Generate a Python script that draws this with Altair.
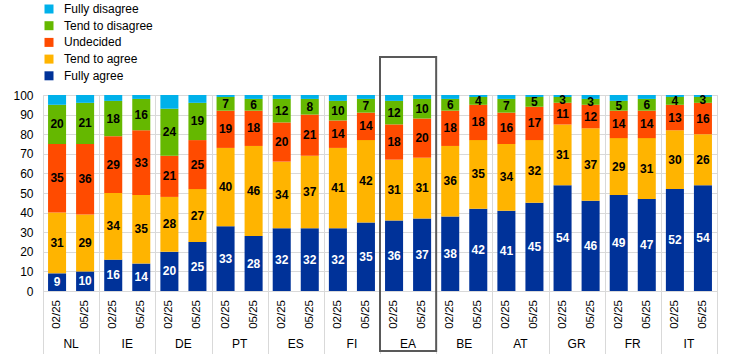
import altair as alt
import pandas as pd

countries = ["NL", "IE", "DE", "PT", "ES", "FI", "EA", "BE", "AT", "GR", "FR", "IT"]
periods = ["02/25", "05/25"]
categories = ["Fully agree", "Tend to agree", "Undecided", "Tend to disagree", "Fully disagree"]
legend_order = ["Fully disagree", "Tend to disagree", "Undecided", "Tend to agree", "Fully agree"]
colors = {"Fully disagree": "#00B1EA", "Tend to disagree": "#65B800", "Undecided": "#FF4B00",
          "Tend to agree": "#FFB400", "Fully agree": "#003299"}
y_ticks = [0, 10, 20, 30, 40, 50, 60, 70, 80, 90, 100]

# values per (country, period) in order NL 02/25, NL 05/25, IE 02/25, ...
fully_agree = [9, 10, 16, 14, 20, 25, 33, 28, 32, 32, 32, 35, 36, 37, 38, 42, 41, 45, 54, 46, 49, 47, 52, 54]
tend_agree = [31, 29, 34, 35, 28, 27, 40, 46, 34, 37, 41, 42, 31, 31, 36, 35, 34, 32, 31, 37, 29, 31, 30, 26]
undecided = [35, 36, 29, 33, 21, 25, 19, 18, 20, 21, 14, 14, 18, 20, 18, 18, 16, 17, 11, 12, 14, 14, 13, 16]
tend_disagree = [20, 21, 18, 16, 24, 19, 7, 6, 12, 8, 10, 7, 12, 10, 6, 4, 7, 5, 3, 3, 5, 6, 4, 3]
fully_disagree = [5, 4, 3, 2, 7, 4, 1, 2, 2, 2, 3, 2, 3, 2, 2, 1, 2, 1, 1, 2, 3, 2, 1, 1]

series = {"Fully agree": fully_agree, "Tend to agree": tend_agree, "Undecided": undecided,
          "Tend to disagree": tend_disagree, "Fully disagree": fully_disagree}

rows = []
for ci, c in enumerate(countries):
    for pi, p in enumerate(periods):
        idx = ci * 2 + pi
        for oi, cat in enumerate(categories):
            rows.append({"country": c, "period": p, "category": cat, "order": oi,
                         "value": series[cat][idx]})
df = pd.DataFrame(rows)

FONT = "Liberation Sans"
GRID = "#d9d9d9"

base = alt.Chart(df).transform_stack(
    stack="value", groupby=["country", "period"], as_=["y0", "y1"],
    sort=[alt.SortField("order", order="ascending")]
).transform_calculate(mid="(datum.y0 + datum.y1) / 2")

x_axis = alt.Axis(labels=False, grid=True, gridColor=GRID, tickBand="extent",
                  tickSize=63, tickColor=GRID, domainColor=GRID)
x_scale = alt.Scale(paddingInner=0, paddingOuter=0)
y_axis = alt.Axis(values=y_ticks, tickCount=11, ticks=False, domain=False,
                  labelPadding=10, gridColor=GRID, labelFontSize=12,
                  labelOverlap=False, labelFlush=False,
                  labelColor="#000000", labelFont=FONT)
y_scale = alt.Scale(domain=[0, 100], nice=False)
xo_enc = alt.XOffset("period:N", sort=periods,
                     scale=alt.Scale(paddingInner=0.357, paddingOuter=0.18))

bars = base.mark_bar().encode(
    x=alt.X("country:N", sort=countries, title=None, scale=x_scale, axis=x_axis),
    xOffset=xo_enc,
    y=alt.Y("y0:Q", title=None, scale=y_scale, axis=y_axis),
    y2="y1:Q",
    color=alt.Color("category:N", scale=alt.Scale(domain=legend_order,
                                                  range=[colors[k] for k in legend_order]),
                    legend=alt.Legend(title=None, orient="none", legendX=0, legendY=-92,
                                      symbolType="square", symbolSize=81, labelFontSize=12,
                                      labelFont=FONT, labelColor="#000000", labelOffset=9,
                                      rowPadding=4.7, padding=0, symbolStrokeWidth=0)),
)

seg_labels = base.transform_filter("datum.category != 'Fully disagree'").mark_text(
    font=FONT, fontSize=12, fontWeight="bold", baseline="middle"
).encode(
    x=alt.X("country:N", sort=countries, title=None, scale=x_scale, axis=x_axis),
    xOffset=xo_enc,
    y=alt.Y("mid:Q", title=None, scale=y_scale, axis=y_axis),
    text=alt.Text("value:Q"),
    color=alt.condition("datum.category == 'Fully agree'", alt.value("#ffffff"), alt.value("#000000")),
)

period_labels = alt.Chart(df).transform_filter("datum.category == 'Fully agree'").mark_text(
    font=FONT, fontSize=11.5, angle=270, align="right", baseline="middle", color="#000000"
).encode(
    x=alt.X("country:N", sort=countries, title=None, scale=x_scale, axis=x_axis),
    xOffset=xo_enc,
    y=alt.value(205),
    text="period:N",
)

country_labels = alt.Chart(df).transform_filter(
    "datum.category == 'Fully agree' && datum.period == '02/25'"
).mark_text(font=FONT, fontSize=12, baseline="middle", color="#000000").encode(
    x=alt.X("country:N", sort=countries, title=None, scale=x_scale, axis=x_axis),
    y=alt.value(249),
    text="country:N",
)

ea_box = alt.Chart(df).transform_filter(
    "datum.country == 'EA' && datum.category == 'Fully agree' && datum.period == '02/25'"
).mark_rect(filled=False, stroke="#595959", strokeWidth=2).encode(
    x=alt.X("country:N", sort=countries, title=None, scale=x_scale, axis=x_axis),
    y=alt.value(-38),
    y2=alt.value(256),
)

chart = alt.layer(bars, seg_labels, period_labels, country_labels, ea_box).properties(
    width=674, height=196,
    padding={"left": 43, "top": 95, "right": 25, "bottom": 63},
    autosize=alt.AutoSizeParams(type="none"),
).configure_view(stroke=None).configure_axisY(labelOverlap=False).configure(background="#ffffff")

chart.save("out.html", embed_options={"renderer": "svg", "actions": False})
